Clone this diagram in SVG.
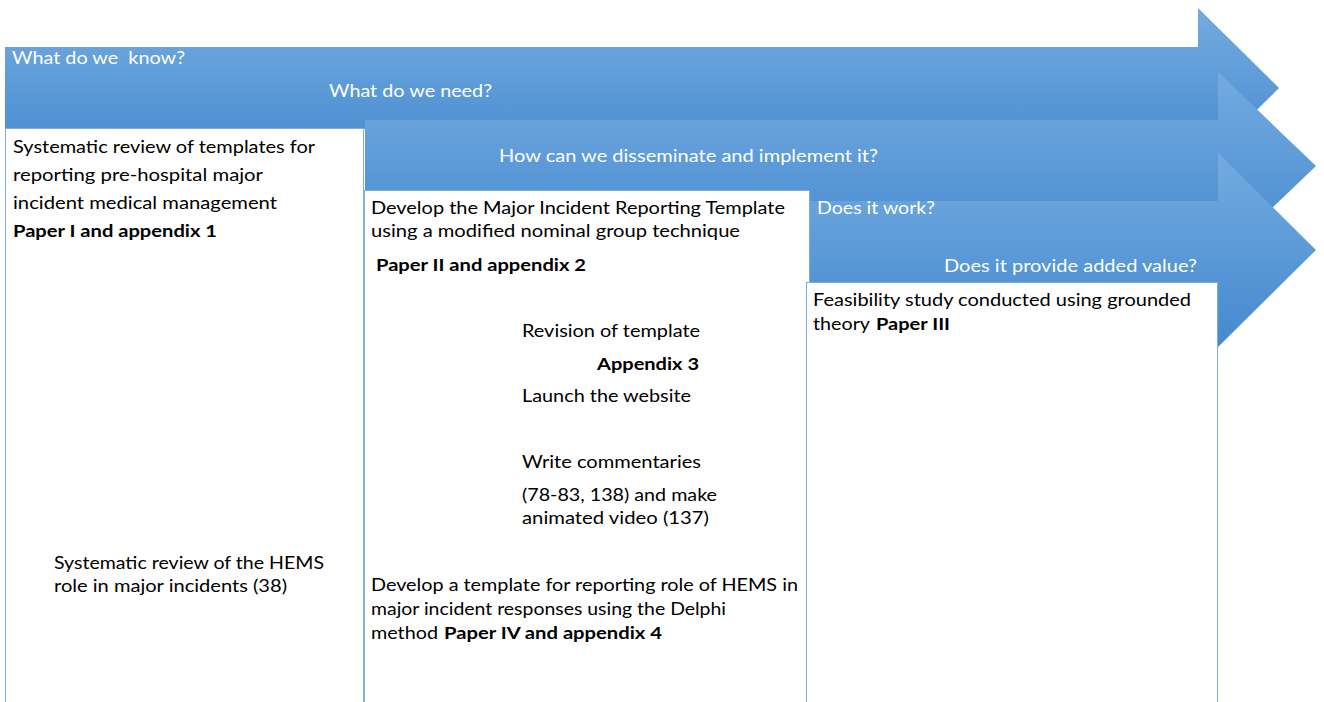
<svg xmlns="http://www.w3.org/2000/svg" width="1324" height="702" viewBox="0 0 1324 702">
<defs>
<linearGradient id="ag" x1="0" y1="0" x2="0" y2="1">
<stop offset="0" stop-color="#74abe0"/>
<stop offset="1" stop-color="#4489cf"/>
</linearGradient>
<style>
.arrow{fill:url(#ag);stroke:none}
.box{fill:#ffffff;stroke:#7fadde;stroke-width:1}
text{font-family:Lato,"Open Sans","Liberation Sans",sans-serif;font-size:17px;fill:#000000}
.w{fill:#ffffff}
.b{font-weight:bold}
.pre{white-space:pre}
</style>
</defs>
<rect width="1324" height="702" fill="#ffffff"/>
<g id="arrow1">
<polygon class="arrow" points="5,47 1198,47 1198,8 1279,88 1198,168 1198,129 5,129"/>
<text class="w pre" xml:space="preserve" x="12" y="64" textLength="173" lengthAdjust="spacingAndGlyphs">What do we  know?</text>
<text class="w" x="329" y="97" textLength="163" lengthAdjust="spacingAndGlyphs">What do we need?</text>
</g>
<g id="box1">
<rect class="box" x="5.5" y="128.5" width="358" height="600"/>
<text x="13" y="153" textLength="302" lengthAdjust="spacingAndGlyphs">Systematic review of templates for</text>
<text x="13" y="181" textLength="250" lengthAdjust="spacingAndGlyphs">reporting pre-hospital major</text>
<text x="13" y="209" textLength="264" lengthAdjust="spacingAndGlyphs">incident medical management</text>
<text class="b" x="13" y="237" textLength="204" lengthAdjust="spacingAndGlyphs">Paper I and appendix 1</text>
<text x="54" y="569" textLength="270" lengthAdjust="spacingAndGlyphs">Systematic review of the HEMS</text>
<text x="54" y="592" textLength="233" lengthAdjust="spacingAndGlyphs">role in major incidents (38)</text>
</g>
<g id="arrow2">
<polygon class="arrow" points="365,120 1218,120 1218,72 1316,166 1218,260 1218,212 365,212"/>
<text class="w" x="499" y="162" textLength="379" lengthAdjust="spacingAndGlyphs">How can we disseminate and implement it?</text>
</g>
<g id="box2">
<rect class="box" x="364.5" y="190.5" width="445" height="540"/>
<text x="371" y="214" textLength="414" lengthAdjust="spacingAndGlyphs">Develop the Major Incident Reporting Template</text>
<text x="371" y="237" textLength="369" lengthAdjust="spacingAndGlyphs">using a modified nominal group technique</text>
<text class="b" x="376" y="271" textLength="210" lengthAdjust="spacingAndGlyphs">Paper II and appendix 2</text>
<text x="522" y="337" textLength="178" lengthAdjust="spacingAndGlyphs">Revision of template</text>
<text class="b" x="597" y="370" textLength="102" lengthAdjust="spacingAndGlyphs">Appendix 3</text>
<text x="522" y="402" textLength="169" lengthAdjust="spacingAndGlyphs">Launch the website</text>
<text x="522" y="468" textLength="179" lengthAdjust="spacingAndGlyphs">Write commentaries</text>
<text x="522" y="501" textLength="195" lengthAdjust="spacingAndGlyphs">(78-83, 138) and make</text>
<text x="522" y="524" textLength="187" lengthAdjust="spacingAndGlyphs">animated video (137)</text>
<text x="371" y="591" textLength="427" lengthAdjust="spacingAndGlyphs">Develop a template for reporting role of HEMS in</text>
<text x="371" y="615" textLength="355" lengthAdjust="spacingAndGlyphs">major incident responses using the Delphi</text>
<text x="371" y="639" textLength="67" lengthAdjust="spacingAndGlyphs">method</text>
<text class="b" x="444" y="639" textLength="218" lengthAdjust="spacingAndGlyphs">Paper IV and appendix 4</text>
</g>
<g id="arrow3">
<polygon class="arrow" points="810,201 1218,201 1218,153 1316,250 1218,347 1218,299 810,299"/>
<text class="w" x="817" y="214" textLength="118" lengthAdjust="spacingAndGlyphs">Does it work?</text>
<text class="w" x="944" y="272" textLength="253" lengthAdjust="spacingAndGlyphs">Does it provide added value?</text>
</g>
<g id="box3">
<rect class="box" x="806.5" y="282.5" width="411" height="450"/>
<text x="813" y="306" textLength="378" lengthAdjust="spacingAndGlyphs">Feasibility study conducted using grounded</text>
<text x="813" y="330" textLength="57" lengthAdjust="spacingAndGlyphs">theory</text>
<text class="b" x="876" y="330" textLength="74" lengthAdjust="spacingAndGlyphs">Paper III</text>
</g>
<g id="connectors"></g>
</svg>
